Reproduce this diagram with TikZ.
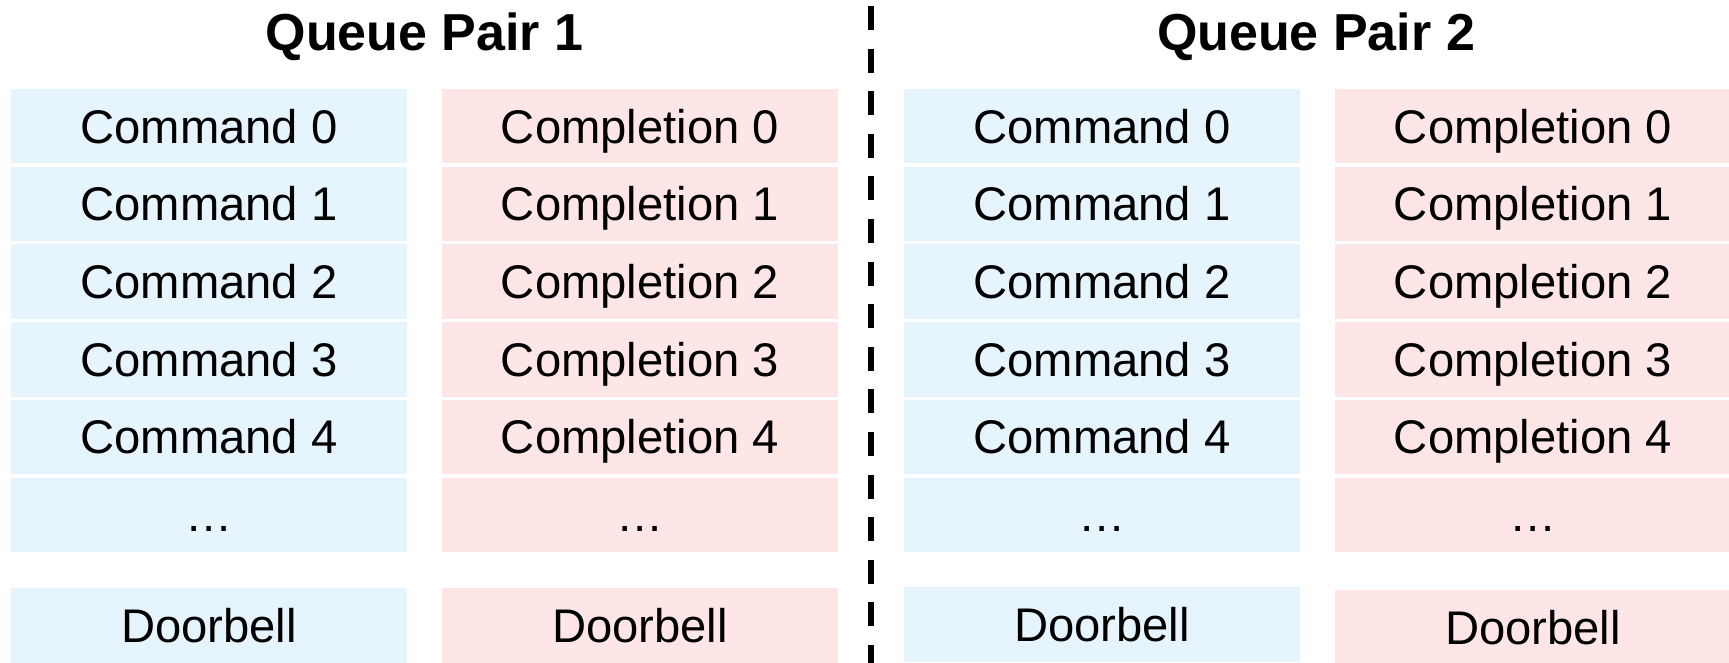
\documentclass[tikz,border=0pt]{standalone}
\usepackage{fontspec}
\setmainfont{Liberation Sans}
\definecolor{cmdfill}{RGB}{230,244,254}
\definecolor{cplfill}{RGB}{255,230,230}
\begin{document}
\begin{tikzpicture}[x=0.5pt,y=-0.5pt,
  cell/.style={anchor=north west, inner sep=0pt, outer sep=0pt,
    minimum width=198pt, minimum height=37.25pt,
    font=\fontsize{23.6}{28}\selectfont, text height=16.9pt, text depth=0pt},
  cmdcell/.style={cell, fill=cmdfill},
  cplcell/.style={cell, fill=cplfill},
  qptitle/.style={anchor=base, inner sep=0pt, font=\fontsize{26}{30}\selectfont\bfseries},
  divider/.style={line width=3pt, dash pattern=on 12pt off 9.3pt}]
\useasboundingbox (0,0) rectangle (1729,663);

% titles
\node[qptitle] (title1) at (424.5,50.5) {Queue Pair 1};
\node[qptitle] (title2) at (1316,50.5) {Queue Pair 2};

% queue entries, five numbered slots and a continuation row per queue
\foreach \p/\xc/\xq in {1/11/442, 2/904/1335} {
  \foreach \i in {0,...,4} {
    \node[cmdcell] (cmd\p-\i) at (\xc,89+77.7*\i) {Command \i};
    \node[cplcell] (cpl\p-\i) at (\xq,89+77.7*\i) {Completion \i};
  }
  \node[cmdcell] (cmd\p-more) at (\xc,89+77.7*5) {…};
  \node[cplcell] (cpl\p-more) at (\xq,89+77.7*5) {…};
}

% doorbell registers
\node[cmdcell] (cmd1-bell) at (11,588) {Doorbell};
\node[cplcell] (cpl1-bell) at (442,588) {Doorbell};
\node[cmdcell] (cmd2-bell) at (904,587) {Doorbell};
\node[cplcell] (cpl2-bell) at (1335,590) {Doorbell};

% separator between the two queue pairs
\coordinate (divtop) at (871,6);
\coordinate (divbot) at (871,670);
\draw[divider] (divtop) -- (divbot);
\end{tikzpicture}
\end{document}
